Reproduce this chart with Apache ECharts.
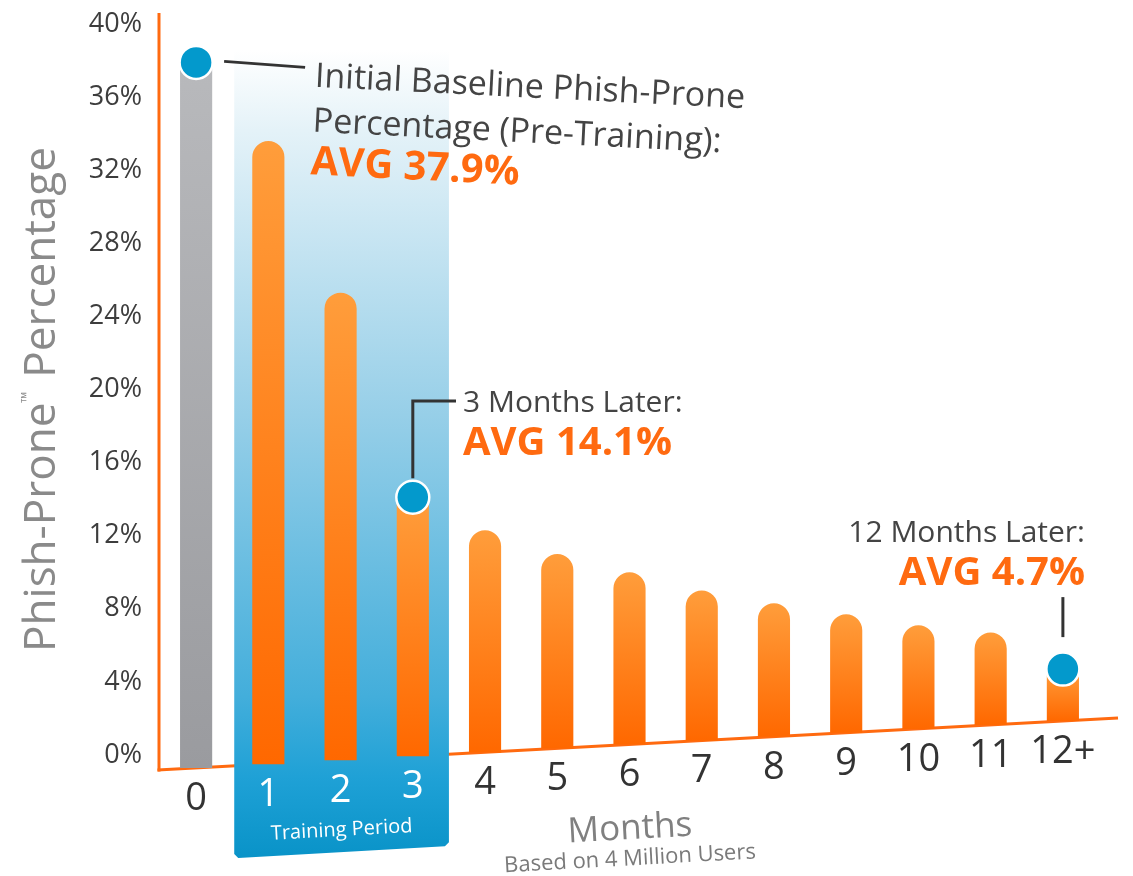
<!DOCTYPE html>
<html>
<head>
<meta charset="utf-8">
<script src="https://cdn.jsdelivr.net/npm/echarts@6/dist/echarts.min.js"></script>
<style>
html,body{margin:0;padding:0;background:#fff;}
#chart{width:1133px;height:876px;}
</style>
</head>
<body>
<div id="chart"></div>
<script>
// ---------- data ----------
const months = ['0','1','2','3','4','5','6','7','8','9','10','11','12+'];
const phishPronePct = [37.9, 33.6, 25.3, 14.1, 12.3, 11.0, 10.0, 9.0, 8.3, 7.7, 7.1, 6.7, 4.7];
const highlightedMonths = ['0', '3', '12+'];
const trainingPeriod = ['1', '3'];
const yMin = 0, yMax = 40, yStep = 4;

const yTitle = ['Phish-Prone', '\u2122', ' Percentage'];
const xTitle = 'Months';
const xSubtitle = 'Based on 4 Million Users';
const trainingLabel = 'Training Period';
const noteBaseline = ['Initial Baseline Phish-Prone', 'Percentage (Pre-Training):', 'AVG 37.9%'];
const note3 = ['3 Months Later:', 'AVG 14.1%'];
const note12 = ['12 Months Later:', 'AVG 4.7%'];

// ---------- style ----------
const FONT = "'Open Sans', 'Noto Sans', sans-serif";
const ORANGE = '#ff6a10';
const BLUE = '#0399cc';
const DARK = '#3d3d3d';
const SLOPE = 0.0542;   // perspective tilt of the month axis
const DROP = 15;        // baseline lies this far below the 0% tick at the left edge
const TAB = 92;         // depth of the training tab under the baseline

function geom(api) {
  const bw = api.size([1, 0])[0];
  const left = api.coord([0, 0])[0] - bw / 2;
  const zeroY = api.coord([0, 0])[1];
  return { bw, left, zeroY, base: x => zeroY + DROP - SLOPE * (x - left) };
}

const chart = echarts.init(document.getElementById('chart'), null, { renderer: 'canvas' });

const tStart = months.indexOf(trainingPeriod[0]);
const tEnd = months.indexOf(trainingPeriod[1]);

const option = {
  animation: false,
  backgroundColor: '#ffffff',
  grid: { left: 160, right: 34, top: 24, bottom: 121, containLabel: false },
  xAxis: {
    type: 'category',
    data: months,
    axisLine: { show: false },
    axisTick: { show: false },
    axisLabel: { show: false },
    splitLine: { show: false }
  },
  yAxis: {
    type: 'value',
    min: yMin, max: yMax, interval: yStep,
    name: yTitle[0] + '{tm|' + yTitle[1] + '}' + yTitle[2],
    nameLocation: 'middle',
    nameGap: 96,
    nameTextStyle: {
      fontSize: 44, color: '#8a8a8a', fontFamily: FONT, padding: [0, 20, 0, 0],
      rich: { tm: { fontSize: 15, color: '#8a8a8a', fontFamily: FONT, verticalAlign: 'top', padding: [0, 2, 18, 0] } }
    },
    axisLine: { show: false },
    axisTick: { show: false },
    splitLine: { show: false },
    axisLabel: { formatter: '{value}%', fontSize: 27, color: DARK, fontFamily: FONT, margin: 18 }
  },
  series: [
    {
      // axis frame (vertical axis + tilted month axis)
      type: 'custom', z: 1, silent: true,
      data: [[0, 0]],
      renderItem: function (params, api) {
        const g = geom(api);
        const topY = api.coord([0, yMax])[1] - 11;
        const rightX = api.coord([months.length - 1, 0])[0] + g.bw / 2 + 19;
        return { type: 'group', children: [
          { type: 'line', shape: { x1: g.left - 1, y1: topY, x2: g.left - 1, y2: g.base(g.left) + 1.5 },
            style: { stroke: ORANGE, lineWidth: 3 } },
          { type: 'line', shape: { x1: g.left - 2.5, y1: g.base(g.left), x2: rightX, y2: g.base(rightX) },
            style: { stroke: ORANGE, lineWidth: 3 } }
        ] };
      }
    },
    {
      // training period band
      type: 'custom', z: 2, silent: true,
      data: [[tStart, tEnd]],
      renderItem: function (params, api) {
        const g = geom(api);
        const x1 = api.coord([api.value(0), 0])[0] - g.bw / 2 + 2;
        const x2 = api.coord([api.value(1), 0])[0] + g.bw / 2;
        const topY = api.coord([0, yMax])[1] + 26;
        const b1 = g.base(x1) + TAB, b2 = g.base(x2) + TAB;
        const mx = (x1 + x2) / 2;
        return { type: 'group', children: [
          { type: 'polygon',
            shape: { points: [[x1, topY], [x2, topY], [x2, b2 - 4], [x2 - 4, b2], [x1 + 4, b1], [x1, b1 - 4]] },
            style: { fill: new echarts.graphic.LinearGradient(0, 0, 0, 1, [
              { offset: 0, color: '#ffffff' },
              { offset: 0.1, color: '#e4f2f8' },
              { offset: 0.45, color: '#97cfe8' },
              { offset: 0.8, color: '#43aedb' },
              { offset: 0.9, color: '#1fa1d6' },
              { offset: 1, color: '#0993c8' }
            ]) } },
          { type: 'text', x: mx, y: g.base(mx) + 70, rotation: 0.055,
            style: { text: trainingLabel, fill: '#ffffff', font: '20px ' + FONT,
                     align: 'center', verticalAlign: 'middle' } }
        ] };
      }
    },
    {
      // monthly bars + month labels
      type: 'custom', z: 3,
      data: months.map((m, i) => [i, phishPronePct[i]]),
      renderItem: function (params, api) {
        const i = api.value(0), v = api.value(1);
        const g = geom(api);
        const p = api.coord([i, v]);
        const cx = p[0], top = p[1];
        const w = g.bw * 0.445, h = w / 2;
        const bottom = g.base(cx);
        const isDot = highlightedMonths.indexOf(months[i]) >= 0;
        const isPre = i === 0;
        const inTraining = i >= tStart && i <= tEnd;
        const fill = isPre
          ? new echarts.graphic.LinearGradient(0, 0, 0, 1, [{ offset: 0, color: '#b8b9bc' }, { offset: 1, color: '#9a9b9f' }])
          : new echarts.graphic.LinearGradient(0, 0, 0, 1, [{ offset: 0, color: '#ff9d3b' }, { offset: 1, color: '#ff6800' }]);
        const children = [
          { type: 'rect', shape: { x: cx - h, y: top, width: w, height: bottom - top, r: isDot ? 0 : [h, h, 0, 0] },
            style: { fill: fill } }
        ];
        if (isDot) {
          children.push({ type: 'circle', shape: { cx: cx, cy: top, r: 16.5 },
            style: { fill: BLUE, stroke: '#ffffff', lineWidth: 2.5 } });
        }
        children.push({ type: 'text', x: cx, y: bottom + 31,
          style: { text: months[i], fill: inTraining ? '#ffffff' : '#333333', font: '38px ' + FONT,
                   align: 'center', verticalAlign: 'middle' } });
        return { type: 'group', children: children };
      }
    }
  ]
};
chart.setOption(option);

// ---------- annotations anchored on the data points ----------
const p0 = chart.convertToPixel({ gridIndex: 0 }, [0, phishPronePct[0]]);
const p3 = chart.convertToPixel({ gridIndex: 0 }, [3, phishPronePct[3]]);
const p12 = chart.convertToPixel({ gridIndex: 0 }, [12, phishPronePct[12]]);
const lineStyle = { stroke: '#333333', lineWidth: 3 };
const txt = (t, x, y, size, color, bold, align) => ({
  type: 'text', x: x, y: y, z: 100, zlevel: 0,
  style: { text: t, fill: color, font: (bold ? 'bold ' : '') + size + 'px ' + FONT,
           align: align || 'left', verticalAlign: 'middle' }
});

chart.setOption({
  graphic: {
    elements: [
      { type: 'line', z: 100, shape: { x1: p0[0] + 28, y1: p0[1] - 1, x2: p0[0] + 109, y2: p0[1] + 5 }, style: lineStyle },
      { type: 'group', z: 100, x: 315, y: 77, rotation: -0.05, children: [
        txt(noteBaseline[0], 0, 0, 34, '#444444', false),
        txt(noteBaseline[1], 0, 45, 34, '#444444', false),
        txt(noteBaseline[2], 0, 86, 40, ORANGE, true)
      ] },
      { type: 'polyline', z: 100, shape: { points: [[p3[0], p3[1] - 19], [p3[0], 401], [456, 401]] }, style: Object.assign({ fill: null }, lineStyle) },
      txt(note3[0], 463, 403, 30, '#444444', false),
      txt(note3[1], 463, 444, 40, ORANGE, true),
      { type: 'line', z: 100, shape: { x1: p12[0], y1: p12[1] - 72, x2: p12[0], y2: p12[1] - 32 }, style: lineStyle },
      txt(note12[0], 1085, 533, 30, '#444444', false, 'right'),
      txt(note12[1], 1085, 574, 40, ORANGE, true, 'right'),
      { type: 'text', z: 100, x: 630, y: 829, rotation: 0.055,
        style: { text: xTitle, fill: '#808080', font: '35px ' + FONT, align: 'center', verticalAlign: 'middle' } },
      { type: 'text', z: 100, x: 630, y: 859, rotation: 0.055,
        style: { text: xSubtitle, fill: '#7a7a7a', font: '22px ' + FONT, align: 'center', verticalAlign: 'middle' } }
    ]
  }
});
</script>
</body>
</html>
